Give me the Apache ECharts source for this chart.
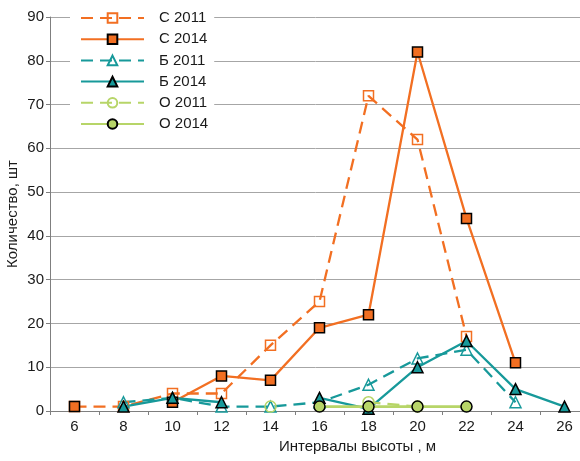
<!DOCTYPE html>
<html>
<head>
<meta charset="utf-8">
<script src="https://cdn.jsdelivr.net/npm/echarts@6/dist/echarts.min.js"></script>
<style>
html,body{margin:0;padding:0;background:#fff;}
#chart{width:580px;height:461px;}
</style>
</head>
<body>
<div id="chart"></div>
<script>
const categories = ['6','8','10','12','14','16','18','20','22','24','26'];
const yTicks = [0,10,20,30,40,50,60,70,80,90];
const seriesNames = ['С 2011','С 2014','Б 2011','Б 2014','О 2011','О 2014'];
const s2011 = [1,1,4,4,15,25,72,62,17,null,null];
const s2014 = [1,null,2,8,7,19,22,82,44,11,null];
const b2011 = [null,2,3,1,1,2,6,12,14,2,null];
const b2014 = [null,1,3,2,null,3,0.5,10,16,5,1];
const o2011 = [null,null,null,null,1,null,2,1,null,null,null];
const o2014 = [null,null,null,null,null,1,1,1,1,null,null];

const ORANGE = '#F26F22';
const TEAL = '#17999A';
const GREEN = '#B7D568';
const FONT = 'Liberation Sans, Arial, sans-serif';
const FS = 15;
const DASH = [12, 7];

function mk(name, data, color, dashed, symbol, filled, size, width) {
  return {
    name: name,
    type: 'line',
    data: data,
    connectNulls: false,
    symbol: symbol,
    symbolSize: size,
    showAllSymbol: true,
    lineStyle: { color: color, width: width || 2.3, type: dashed ? DASH : 'solid' },
    itemStyle: filled
      ? { color: color, borderColor: '#000', borderWidth: 1.5 }
      : { color: 'rgba(255,255,255,0)', borderColor: color, borderWidth: 1.5 },
    emphasis: { disabled: true },
    animation: false
  };
}

const chart = echarts.init(document.getElementById('chart'), null, { renderer: 'canvas' });
chart.setOption({
  backgroundColor: '#fff',
  animation: false,
  textStyle: { fontFamily: FONT },
  grid: { left: 50, right: -9, top: 17, bottom: 50, containLabel: false, outerBoundsMode: 'none' },
  legend: {
    orient: 'vertical',
    left: 70,
    top: 8,
    padding: [2, 6, 2, 10],
    backgroundColor: '#fff',
    itemWidth: 63,
    itemHeight: 12,
    itemGap: 5.2,
    data: seriesNames,
    textStyle: { fontFamily: FONT, fontSize: FS, lineHeight: 16, color: '#1a1a1a', padding: [0, 0, 0, 10] }
  },
  xAxis: {
    type: 'category',
    data: categories,
    boundaryGap: true,
    name: 'Интервалы высоты , м',
    nameLocation: 'middle',
    nameGap: 28,
    nameTextStyle: { fontFamily: FONT, fontSize: FS, color: '#1a1a1a', padding: [0, 0, 0, 76] },
    axisLine: { lineStyle: { color: '#7f7f7f', width: 1 } },
    axisTick: { show: true, inside: false, length: 4, alignWithLabel: false, lineStyle: { color: '#7f7f7f' } },
    axisLabel: { fontFamily: FONT, fontSize: FS, color: '#1a1a1a', margin: 8 },
    splitLine: { show: false }
  },
  yAxis: {
    type: 'value',
    min: yTicks[0],
    max: yTicks[yTicks.length - 1],
    interval: 10,
    name: 'Количество, шт',
    nameLocation: 'middle',
    nameGap: 30,
    nameMoveOverlap: false,
    nameRotate: 90,
    nameTextStyle: { fontFamily: FONT, fontSize: FS, color: '#1a1a1a' },
    axisLine: { show: true, lineStyle: { color: '#7f7f7f', width: 1 } },
    axisTick: { show: true, inside: false, length: 4, lineStyle: { color: '#7f7f7f' } },
    axisLabel: { fontFamily: FONT, fontSize: FS, color: '#1a1a1a', margin: 6 },
    splitLine: { show: true, lineStyle: { color: '#a6a6a6', width: 1 } }
  },
  series: [
    mk(seriesNames[0], s2011, ORANGE, true, 'rect', false, 10),
    mk(seriesNames[1], s2014, ORANGE, false, 'rect', true, 10),
    mk(seriesNames[2], b2011, TEAL, true, 'triangle', false, 11),
    mk(seriesNames[3], b2014, TEAL, false, 'triangle', true, 11),
    mk(seriesNames[4], o2011, GREEN, true, 'circle', false, 11),
    mk(seriesNames[5], o2014, GREEN, false, 'circle', true, 11, 2.8)
  ]
});
</script>
</body>
</html>
